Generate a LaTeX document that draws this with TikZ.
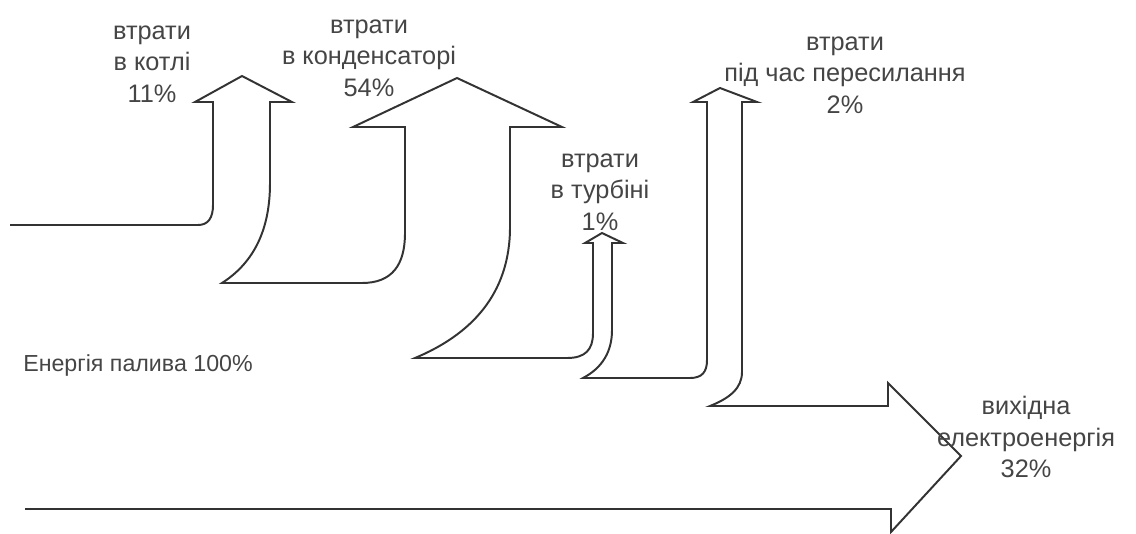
\documentclass[tikz,border=0pt]{standalone}
\usepackage{fontspec}
\setsansfont{Liberation Sans}
\usetikzlibrary{positioning}
\definecolor{cline}{HTML}{333333}
\definecolor{ctext}{HTML}{454545}
\tikzset{
  every picture/.style={font=\sffamily, x=0.025cm, y=-0.025cm},
  flow/.style={draw=cline, line width=1.4pt, line join=miter},
  loss/.style={font=\sffamily\fontsize{18}{22.5}\selectfont, text=ctext, align=center, inner sep=0pt},
  fuel/.style={font=\sffamily\fontsize{16.5}{20}\selectfont, text=ctext, anchor=west, inner sep=0pt},
}
\begin{document}
\begin{tikzpicture}
  \useasboundingbox (0,0) rectangle (1136,533);
  % energy flow outline, from the fuel input round every loss to the output
  \draw[flow] (10,225) -- (198,225) .. controls (208,225) and (213,218) .. (213,205)
    -- (213,102) -- (195,102) -- (242,76) -- (292,102) -- (270,102)
    -- (270,183) .. controls (270,235) and (250,265) .. (222,283)
    -- (362,283) .. controls (392,283) and (405,265) .. (405,233)
    -- (405,127) -- (353,127) -- (457,78) -- (562,127) -- (510,127)
    -- (510,227) .. controls (510,295) and (470,335) .. (415,358)
    -- (567,358) .. controls (585,358) and (593,350) .. (593,333)
    -- (593,243) -- (585,243) -- (602,233) -- (623,243) -- (612,243)
    -- (612,330) .. controls (612,352) and (602,368) .. (583,378)
    -- (690,378) .. controls (702,378) and (707,372) .. (707,360)
    -- (707,102) -- (693,102) -- (720,88) -- (757,102) -- (742,102)
    -- (742,372) .. controls (742,388) and (730,398) .. (710,406)
    -- (888,406) -- (888,383) -- (961,456) -- (891,532) -- (891,509) -- (25,509);
  % labels
  \node[loss] (kotel) at (152,64) {втрати\\в котлі\\11\%};
  \node[loss] (kond) at (369,58) {втрати\\в конденсаторі\\54\%};
  \node[loss] (turb) at (600,192) {втрати\\в турбіні\\1\%};
  \node[loss] (peres) at (845,75) {втрати\\під час пересилання\\2\%};
  \node[loss] (vykh) at (1026,437) {вихідна\\електроенергія\\32\%};
  \node[fuel] (palyvo) at (23,365) {Енергія палива 100\%};
\end{tikzpicture}
\end{document}
